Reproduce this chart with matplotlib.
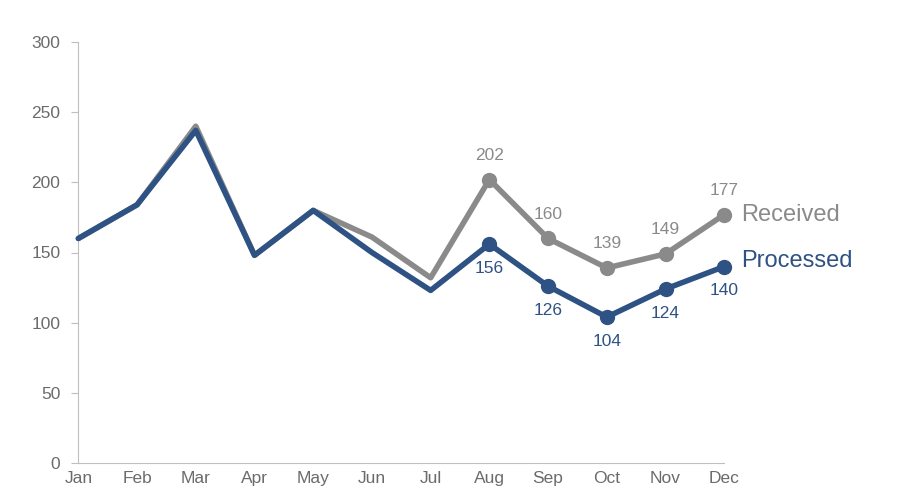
import matplotlib
matplotlib.use("Agg")
import matplotlib.pyplot as plt

months = ["Jan","Feb","Mar","Apr","May","Jun","Jul","Aug","Sep","Oct","Nov","Dec"]
received = [160,184,240,148,180,161,132,202,160,139,149,177]
processed = [160,184,237,148,180,150,123,156,126,104,124,140]
yticks = [0,50,100,150,200,250,300]

plt.rcParams['font.family'] = ['Liberation Sans', 'DejaVu Sans']
gray = "#8a8a8a"
blue = "#2e5283"
tick_c = "#6b6b6b"

fig = plt.figure(figsize=(9.11,5), dpi=100)
ax = fig.add_axes([0.086, 0.074, 0.709, 0.842])
x = list(range(len(months)))
ax.plot(x, received, color=gray, lw=4, solid_capstyle='round', zorder=2)
ax.plot(x, processed, color=blue, lw=4, solid_capstyle='round', zorder=3)
for i in range(7, 12):
    ax.plot(i, received[i], 'o', color=gray, ms=10, zorder=2)
    ax.plot(i, processed[i], 'o', color=blue, ms=10, zorder=3)
    ax.annotate(str(received[i]), (i, received[i]), xytext=(0, 12), textcoords='offset points',
                ha='center', va='bottom', color=gray, fontsize=12.5)
    ax.annotate(str(processed[i]), (i, processed[i]), xytext=(0, -12), textcoords='offset points',
                ha='center', va='top', color=blue, fontsize=12.5)
ax.annotate("Received", (11, received[-1]), xytext=(12, 0), textcoords='offset points',
            va='center', ha='left', color=gray, fontsize=17)
ax.annotate("Processed", (11, processed[-1]), xytext=(12, 4), textcoords='offset points',
            va='center', ha='left', color=blue, fontsize=17)
ax.set_xlim(0, 11)
ax.set_ylim(0, 300)
ax.set_yticks(yticks)
ax.set_xticks(x)
ax.set_xticklabels(months)
ax.tick_params(colors=tick_c, labelsize=12.5, length=0, pad=8)
ax.tick_params(axis='x', pad=6)
for s in ['top','right']:
    ax.spines[s].set_visible(False)
for s in ['left','bottom']:
    ax.spines[s].set_color("#bfbfbf")
ax.yaxis.set_tick_params(length=5, color="#bfbfbf")
ax.set_clip_on(False)
for l in ax.lines:
    l.set_clip_on(False)
fig.savefig("out.png", dpi=100)
